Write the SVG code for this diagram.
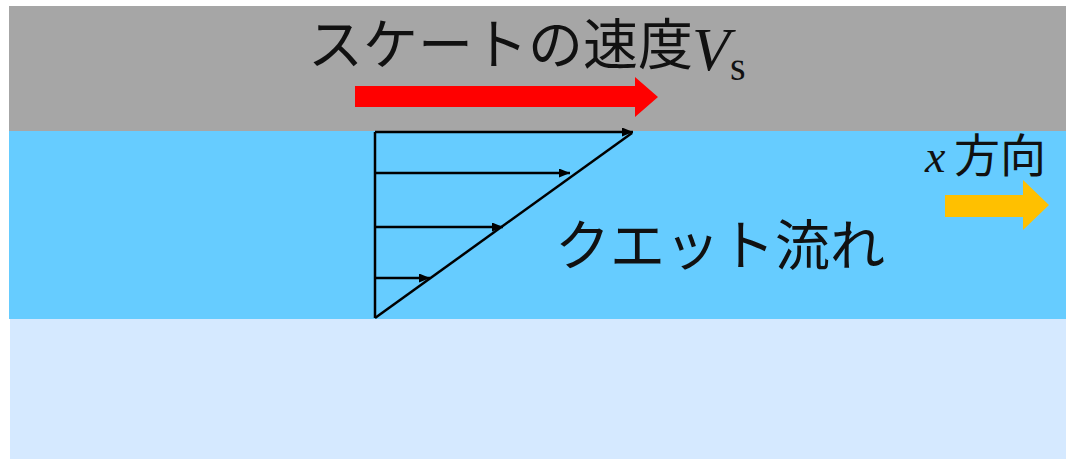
<svg xmlns="http://www.w3.org/2000/svg" width="1066" height="459" viewBox="0 0 1066 459">
  <style>
    .jp { font-family: "Noto Sans CJK JP", "Noto Sans", sans-serif; fill: #111; }
    .math { font-family: "Liberation Serif", "DejaVu Serif", serif; fill: #111; }
    .prof { stroke: #000; stroke-width: 2.5; fill: none; }
  </style>
  <defs>
    <marker id="ah" viewBox="0 0 10 10" refX="10" refY="5" markerWidth="11" markerHeight="9" markerUnits="userSpaceOnUse" orient="auto" preserveAspectRatio="none">
      <path d="M0,0 L10,5 L0,10 Z" fill="#000"/>
    </marker>
  </defs>
  <rect x="0" y="0" width="1066" height="459" fill="#ffffff"/>
  <g id="skate">
    <rect x="9" y="6" width="1057" height="125" fill="#a6a6a6"/>
  </g>
  <g id="water">
    <rect x="9" y="131" width="1057" height="188" fill="#66ccff"/>
  </g>
  <g id="ice">
    <rect x="10" y="319" width="1056" height="140" fill="#d5e9ff"/>
  </g>
  <g id="title">
    <text class="jp" x="308" y="64" font-size="55">スケートの速度</text>
    <text class="math" x="692" y="70" font-size="62"><tspan font-style="italic">V</tspan><tspan dy="10" font-size="40">s</tspan></text>
  </g>
  <g id="red-arrow">
    <path d="M355,86 L635,86 L635,77 L658,97 L635,117 L635,107 L355,107 Z" fill="#ff0000"/>
  </g>
  <g id="x-dir">
    <text class="math" x="925" y="172" font-size="46" font-style="italic">x</text>
    <text class="jp" x="954" y="172" font-size="46">方向</text>
    <path d="M945,195 L1023,195 L1023,180 L1049,205 L1023,230 L1023,217 L945,217 Z" fill="#ffc000"/>
  </g>
  <g id="couette-label">
    <text class="jp" x="555" y="265" font-size="55">クエット流れ</text>
  </g>
  <g id="connectors">
    <line class="prof" x1="375" y1="132" x2="375" y2="318"/>
    <line class="prof" x1="375" y1="318" x2="632" y2="133"/>
    <line class="prof" x1="375" y1="132" x2="633" y2="132" marker-end="url(#ah)"/>
    <line class="prof" x1="375" y1="173" x2="570" y2="173" marker-end="url(#ah)"/>
    <line class="prof" x1="375" y1="227" x2="503" y2="227" marker-end="url(#ah)"/>
    <line class="prof" x1="375" y1="278" x2="430" y2="278" marker-end="url(#ah)"/>
  </g>
</svg>
